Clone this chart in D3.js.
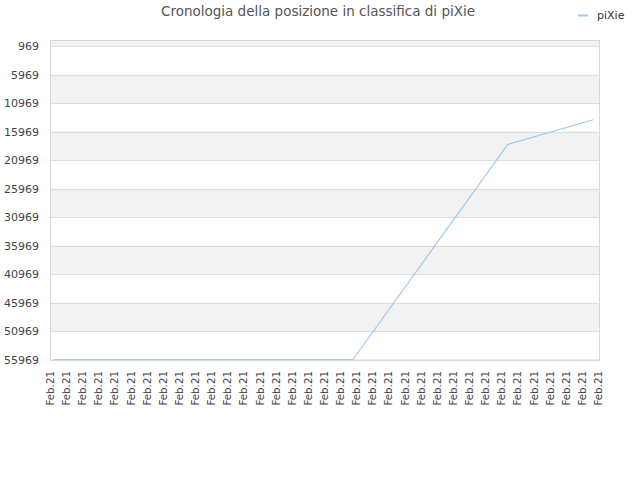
<!DOCTYPE html>
<html>
<head>
<meta charset="utf-8">
<script src="https://cdn.jsdelivr.net/npm/d3@7"></script>
<style>
  body { margin: 0; background: #fff; }
  text { font-family: "DejaVu Sans", sans-serif; }
</style>
</head>
<body>
<script>
// Chart data
var chartTitle = "Cronologia della posizione in classifica di piXie";
var seriesName = "piXie";
var xLabels = d3.range(35).map(function() { return "Feb.21"; });
// position along the x axis in tick units, and rank
var pointT = [0.25, 18.8, 28.4, 33.7];
var pointRank = [55969, 55969, 18250, 13900];
var yTicks = [969, 5969, 10969, 15969, 20969, 25969, 30969, 35969, 40969, 45969, 50969, 55969];
var yMin = 0, yMax = 55969;

var width = 640, height = 480;
var plot = { left: 50, right: 600, top: 40, bottom: 359.5 };

var svg = d3.select("body").append("svg")
  .attr("width", width)
  .attr("height", height);

var x = d3.scaleLinear().domain([0, xLabels.length - 1]).range([plot.left, 598]);
var y = d3.scaleLinear().domain([yMin, yMax]).range([plot.top + 0.5, plot.bottom]);

// Alternating bands
var bandEdges = [yMin].concat(yTicks);
for (var i = 0; i < bandEdges.length - 1; i++) {
  if (i % 2 == 0) {
    svg.append("rect")
      .attr("x", plot.left)
      .attr("y", y(bandEdges[i]))
      .attr("width", plot.right - plot.left)
      .attr("height", y(bandEdges[i + 1]) - y(bandEdges[i]))
      .attr("fill", "#f2f2f2");
  }
}

// Grid lines
svg.selectAll("line.grid")
    .data(yTicks).enter()
  .append("line")
    .attr("class", "grid")
    .attr("x1", plot.left).attr("x2", plot.right)
    .attr("y1", function(d) { return Math.round(y(d)) + 0.5; })
    .attr("y2", function(d) { return Math.round(y(d)) + 0.5; })
    .attr("stroke", "#dddddd");

// Plot border
svg.append("rect")
  .attr("x", plot.left + 0.5).attr("y", plot.top + 0.5)
  .attr("width", plot.right - plot.left - 1)
  .attr("height", plot.bottom - plot.top)
  .attr("fill", "none")
  .attr("stroke", "#d8d8d8");

// Y axis labels
svg.selectAll("text.ylab")
    .data(yTicks).enter()
  .append("text")
    .attr("class", "ylab")
    .attr("x", 39)
    .attr("y", function(d) { return y(d) + 4; })
    .attr("text-anchor", "end")
    .attr("font-size", 11)
    .attr("fill", "#444")
    .text(function(d) { return d; });

// X axis labels
svg.selectAll("text.xlab")
    .data(xLabels).enter()
  .append("text")
    .attr("class", "xlab")
    .attr("transform", function(d, i) { return "translate(" + (x(i) + 4) + ",371) rotate(-90)"; })
    .attr("text-anchor", "end")
    .attr("font-size", 10.3)
    .attr("fill", "#444")
    .text(function(d) { return d; });

// Series line
var points = pointT.map(function(t, i) { return { t: t, rank: pointRank[i] }; });
var line = d3.line()
  .x(function(d) { return x(d.t); })
  .y(function(d) { return y(d.rank); });
svg.append("path")
  .datum(points)
  .attr("d", line)
  .attr("fill", "none")
  .attr("stroke", "#9ecaf5")
  .attr("stroke-width", 1.2);

// Title
svg.append("text")
  .attr("x", 318).attr("y", 16)
  .attr("text-anchor", "middle")
  .attr("font-size", 13.5)
  .attr("fill", "#555")
  .text(chartTitle);

// Legend
svg.append("line")
  .attr("x1", 578).attr("x2", 588)
  .attr("y1", 15.5).attr("y2", 15.5)
  .attr("stroke", "#9ecaf5")
  .attr("stroke-width", 2);
svg.append("text")
  .attr("x", 597).attr("y", 19)
  .attr("font-size", 11)
  .attr("fill", "#333")
  .text(seriesName);
</script>
</body>
</html>
